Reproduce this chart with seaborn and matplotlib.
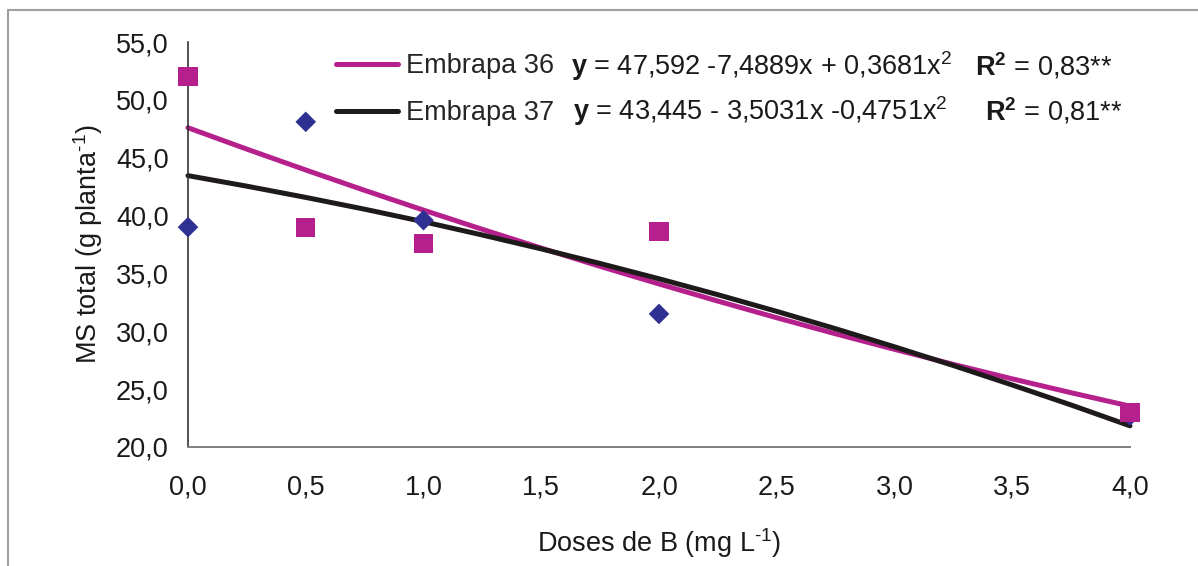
import matplotlib
matplotlib.use("Agg")
import matplotlib.pyplot as plt
from matplotlib.lines import Line2D
from matplotlib.ticker import FuncFormatter
import seaborn as sns
import pandas as pd

# observed means
doses = [0.0, 0.5, 1.0, 2.0, 4.0]
ms_embrapa36 = [52.0, 39.0, 37.6, 38.6, 23.0]
ms_embrapa37 = [39.0, 48.1, 39.6, 31.5, 22.7]

# fitted curves
curve_x = [0.0, 0.25, 0.5, 0.75, 1.0, 1.25, 1.5, 1.75, 2.0, 2.25, 2.5, 2.75, 3.0, 3.25, 3.5, 3.75, 4.0]
curve_embrapa36 = [47.59, 45.74, 43.94, 42.18, 40.47, 38.81, 37.19, 35.61, 34.09,
                   32.61, 31.17, 29.78, 28.44, 27.14, 25.89, 24.69, 23.53]
curve_embrapa37 = [43.45, 42.54, 41.57, 40.55, 39.47, 38.32, 37.12, 35.86, 34.54,
                   33.16, 31.72, 30.22, 28.66, 27.04, 25.36, 23.63, 21.83]

labels = ["Embrapa 36", "Embrapa 37"]
equations = [r"$\mathbf{y}$ = 47,592 -7,4889x + 0,3681x$^2$",
             r"$\mathbf{y}$ = 43,445 - 3,5031x -0,4751x$^2$"]
r2_texts = [r"$\mathbf{R^2}$ = 0,83**", r"$\mathbf{R^2}$ = 0,81**"]

magenta = "#B5208D"
blue = "#2E3192"
black = "#1E1A1A"

sns.set_style("white")
plt.rcParams['font.family'] = ['Liberation Sans', 'DejaVu Sans']
plt.rcParams['mathtext.fontset'] = 'custom'
plt.rcParams['mathtext.rm'] = 'Liberation Sans'
plt.rcParams['mathtext.it'] = 'Liberation Sans'
plt.rcParams['mathtext.bf'] = 'Liberation Sans:bold'
fs = 19.5

points = pd.DataFrame({
	"dose": doses * 2,
	"ms": ms_embrapa36 + ms_embrapa37,
	"cultivar": [labels[0]] * len(doses) + [labels[1]] * len(doses),
})
curves = pd.DataFrame({
	"dose": curve_x * 2,
	"ms": curve_embrapa36 + curve_embrapa37,
	"cultivar": [labels[0]] * len(curve_x) + [labels[1]] * len(curve_x),
})

fig = plt.figure(figsize=(11.98, 5.66), dpi=100)
ax = fig.add_axes([188 / 1198, 1 - 447 / 566, (1130 - 188) / 1198, (447 - 42) / 566])

sns.lineplot(data=curves, x="dose", y="ms", hue="cultivar", palette=[magenta, black],
			 linewidth=3.6, ax=ax, legend=False, clip_on=False)
sns.scatterplot(data=points[points.cultivar == labels[1]], x="dose", y="ms", marker="D",
				color=blue, s=110, edgecolor="none", ax=ax, legend=False, clip_on=False, zorder=3)
sns.scatterplot(data=points[points.cultivar == labels[0]], x="dose", y="ms", marker="s",
				color=magenta, s=190, edgecolor="none", ax=ax, legend=False, clip_on=False, zorder=4)

ax.set_xlim(0, 4)
ax.set_ylim(20, 55)
ax.set_xticks([0, 0.5, 1.0, 1.5, 2.0, 2.5, 3.0, 3.5, 4.0])
ax.set_yticks([20, 25, 30, 35, 40, 45, 50, 55])
comma = FuncFormatter(lambda v, p: f"{v:.1f}".replace(".", ","))
ax.xaxis.set_major_formatter(comma)
ax.yaxis.set_major_formatter(comma)
ax.tick_params(axis="x", direction="out", length=7, width=1.2, color="#808080", labelsize=fs, pad=13, labelcolor="#1a1a1a")
ax.tick_params(axis="y", direction="out", length=7, width=1.2, color="#333333", labelsize=fs, pad=7, labelcolor="#1a1a1a")
for side in ["top", "right"]:
	ax.spines[side].set_visible(False)
ax.spines["bottom"].set_color("#808080")
ax.spines["bottom"].set_linewidth(1.4)
ax.spines["left"].set_color("#333333")
ax.spines["left"].set_linewidth(1.2)

ax.set_xlabel(r"Doses de B (mg L$^{\text{-}1}$)", fontsize=fs, labelpad=18, color="#1a1a1a")
ax.set_ylabel(r"MS total (g planta$^{\text{-}1}$)", fontsize=fs, labelpad=8, color="#1a1a1a")

# legend: line handles + equations
handles = [Line2D([], [], color=magenta, lw=3.6), Line2D([], [], color=black, lw=3.6)]
ax.legend(handles, labels, loc="upper left", bbox_to_anchor=(336 / 1198, 1 - 53 / 566),
		  bbox_transform=fig.transFigure, frameon=False, fontsize=fs, handlelength=2.3,
		  handletextpad=0.3, labelspacing=0.78, borderpad=0, borderaxespad=0)
row_y = [1 - 66 / 566, 1 - 111 / 566]
fig.text(571 / 1198, row_y[0], equations[0], fontsize=fs, va="center", color="#1a1a1a")
fig.text(573 / 1198, row_y[1], equations[1], fontsize=fs, va="center", color="#1a1a1a")
fig.text(975 / 1198, row_y[0], r2_texts[0], fontsize=fs, va="center", color="#1a1a1a")
fig.text(985 / 1198, row_y[1], r2_texts[1], fontsize=fs, va="center", color="#1a1a1a")

# outer frame (top and left edges visible)
fig.add_artist(Line2D([8 / 1198, 1], [1 - 10 / 566, 1 - 10 / 566], color="#a0a0a0", lw=1.5))
fig.add_artist(Line2D([8 / 1198, 8 / 1198], [0, 1 - 10 / 566], color="#a0a0a0", lw=1.5))

fig.savefig("out.png", dpi=100)
